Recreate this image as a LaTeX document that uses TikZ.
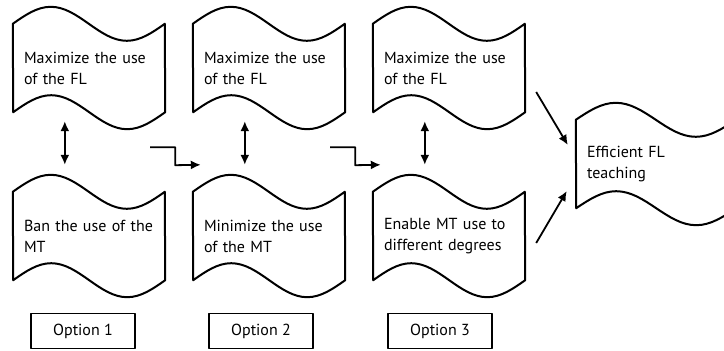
\documentclass[tikz,border=0pt]{standalone}
\usepackage{fontspec}
\setmainfont{PT Sans}
\usetikzlibrary{arrows.meta}

\newcommand{\waveline}[2]{%
 \draw[wave line] (#1.north west) sin ++(#2/4,-17) cos ++(#2/4,17) sin ++(#2/4,17) cos ++(#2/4,-17)
  -- (#1.south east) sin ++(-#2/4,17) cos ++(-#2/4,-17) sin ++(-#2/4,-17) cos ++(-#2/4,17) -- cycle;}

\begin{document}
\begin{tikzpicture}[x=1pt, y=-1pt, font=\fontsize{16}{21}\selectfont, line join=round, >={Latex[length=10pt,width=9pt]},
 wave/.style={text width=130pt, align=left, inner xsep=11pt, inner ysep=0pt, minimum height=88pt},
 wave line/.style={line width=2pt},
 opt/.style={draw, line width=1.6pt, minimum width=104pt, minimum height=35pt, inner sep=0pt},
 link/.style={->, line width=1.8pt}]
 \useasboundingbox (0,0) rectangle (724,351);
 \clip (0,0) rectangle (724,351);
 \node[wave] (u1) at (89,68) {Maximize the use\\of the FL};
 \node[wave] (u2) at (269,68) {Maximize the use\\of the FL};
 \node[wave] (u3) at (449,68) {Maximize the use\\of the FL};
 \node[wave] (l1) at (89,236) {Ban the use of the\\MT};
 \node[wave] (l2) at (269,236) {Minimize the use\\of the MT};
 \node[wave] (l3) at (449,236) {Enable MT use to\\different degrees};
 \node[wave, text width=138pt] (eff) at (656,164) {Efficient FL\\teaching};
 \foreach \n in {u1,u2,u3,l1,l2,l3} \waveline{\n}{152};
 \waveline{eff}{160}
 \node[opt] (o1) at (83,331) {Option 1};
 \node[opt] (o2) at (261,331) {Option 2};
 \node[opt] (o3) at (440,331) {Option 3};
 \foreach \i in {1,2,3}
  \draw[link, <->] ([shift={(52,9)}]u\i.south west) -- ([shift={(52,-27)}]l\i.north west);
 \draw[link] ([shift={(-15,35)}]u1.south east) -- ++(25,0) -- ++(0,18) -- ([shift={(8,-27)}]l2.north west);
 \draw[link] ([shift={(-15,35)}]u2.south east) -- ++(25,0) -- ++(0,18) -- ([shift={(8,-27)}]l3.north west);
 \draw[link] ([shift={(11,24)}]u3.east) -- ([shift={(-8,-19)}]eff.west);
 \draw[link] ([shift={(11,7)}]l3.east) -- ([shift={(-9,27)}]eff.west);
\end{tikzpicture}
\end{document}
